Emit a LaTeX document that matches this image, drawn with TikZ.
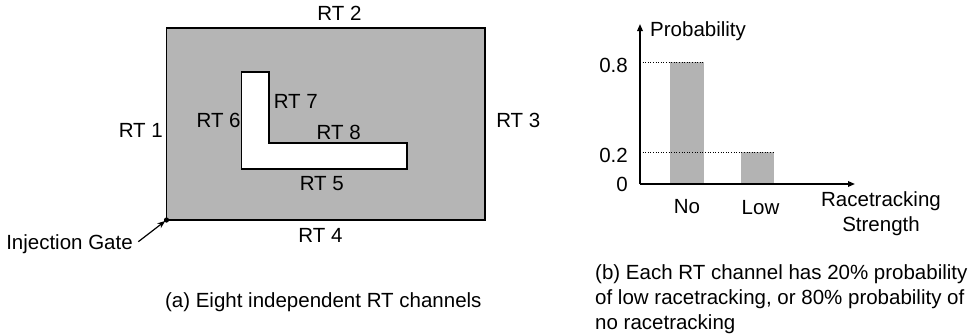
\documentclass[tikz,border=0pt]{standalone}
\usepackage{fontspec}
\setmainfont{Liberation Sans}
\usetikzlibrary{arrows.meta}
\definecolor{panelgray}{HTML}{B5B5B5}
\definecolor{bargray}{HTML}{B3B3B3}
\begin{document}
\begin{tikzpicture}[x=1pt,y=-1pt,
  lbl/.style={inner sep=0pt, anchor=base, font=\fontsize{20.5}{25}\selectfont},
  lblw/.style={lbl, anchor=base west},
  lble/.style={lbl, anchor=base east},
  edge/.style={line width=1.8pt},
  axis/.style={line width=1.6pt, -{Triangle[length=7pt,width=5.5pt]}},
  guide/.style={line width=0.6pt, dotted}]
\useasboundingbox (0,0) rectangle (973,335);

% ---- (a) mould with the L-shaped insert ----
\draw[edge, fill=panelgray] (166.5,27.7) rectangle (485,220);
\draw[edge, fill=white] (241.5,71.7) -- (269.3,71.7) -- (269.3,143.3)
  -- (407.3,143.3) -- (407.3,168.7) -- (241.5,168.7) -- cycle;

\node[lbl] (rt1) at (140.8,137) {RT 1};
\node[lbl] (rt2) at (339.5,20.5) {RT 2};
\node[lbl] (rt3) at (518.3,127.3) {RT 3};
\node[lbl] (rt4) at (320.5,242.5) {RT 4};
\node[lbl] (rt5) at (321.8,190) {RT 5};
\node[lbl] (rt6) at (218.6,127) {RT 6};
\node[lbl] (rt7) at (295.8,108.3) {RT 7};
\node[lbl] (rt8) at (338.7,139.3) {RT 8};

% injection gate at the lower left corner
\coordinate (inj) at (166.5,220);
\fill (inj) circle (2.6pt);
\node[lbl] (gate) at (69.5,249.3) {Injection Gate};
\coordinate (gatetail) at (138.3,241.7);
\draw[line width=1.2pt, -{Stealth[length=8pt,width=6pt]}, shorten >=1.5pt] (gatetail) -- (inj);

\node[lbl] (capa) at (323.3,307.3) {(a) Eight independent RT channels};

% ---- (b) probability of racetracking strength ----
\coordinate (O) at (640,184);
\coordinate (ytop) at (640,24);
\coordinate (xend) at (855,184);

\fill[bargray] (670,62) rectangle (704,184);
\fill[bargray] (741,152) rectangle (774,184);
\draw[guide] (640,62) -- (704,62);
\draw[guide] (640,152) -- (774,152);

\draw[axis] (O) -- (ytop);
\draw[axis] (O) -- (xend);

\node[lble] (t08) at (628,72) {0.8};
\node[lble] (t02) at (628,162) {0.2};
\node[lble] (t0) at (628,191) {0};
\node[lblw] (ylab) at (650,36.7) {Probability};
\node[lbl] (cno) at (687,213) {No};
\node[lbl] (clow) at (760.5,214.5) {Low};
\node[lbl] (xlab1) at (881,206.7) {Racetracking};
\node[lbl] (xlab2) at (881,231.7) {Strength};

\node[lblw] (capb1) at (595,279.5) {(b) Each RT channel has 20\% probability};
\node[lblw] (capb2) at (595,304.5) {of low racetracking, or 80\% probability of};
\node[lblw] (capb3) at (595,329.5) {no racetracking};
\end{tikzpicture}
\end{document}
